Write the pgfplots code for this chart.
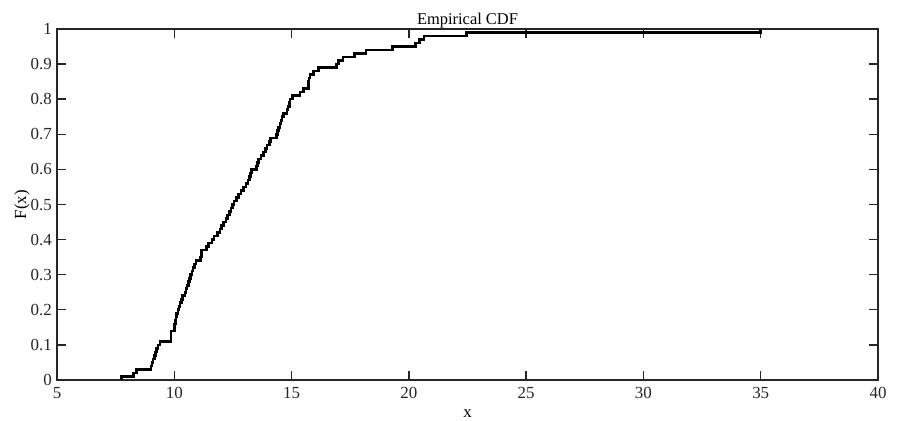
\documentclass[border=0pt]{standalone}
\usepackage{pgfplots}
\pgfplotsset{compat=1.18}
\usepackage{fontspec}
\setmainfont{Liberation Serif}
\definecolor{axgray}{HTML}{262626}
\pgfplotstableread{
x F
7.76 0.00
7.76 0.01
8.25 0.02
8.40 0.03
9.00 0.04
9.05 0.05
9.10 0.06
9.15 0.07
9.20 0.08
9.25 0.09
9.30 0.10
9.39 0.11
9.86 0.12
9.86 0.13
9.86 0.14
10.00 0.15
10.02 0.16
10.04 0.17
10.07 0.18
10.10 0.19
10.15 0.20
10.20 0.21
10.25 0.22
10.30 0.23
10.36 0.24
10.45 0.25
10.50 0.26
10.55 0.27
10.60 0.28
10.65 0.29
10.70 0.30
10.75 0.31
10.80 0.32
10.86 0.33
10.92 0.34
11.12 0.35
11.15 0.36
11.17 0.37
11.38 0.38
11.45 0.39
11.60 0.40
11.70 0.41
11.85 0.42
11.95 0.43
12.00 0.44
12.10 0.45
12.20 0.46
12.28 0.47
12.35 0.48
12.42 0.49
12.48 0.50
12.55 0.51
12.64 0.52
12.75 0.53
12.85 0.54
12.95 0.55
13.05 0.56
13.15 0.57
13.20 0.58
13.25 0.59
13.30 0.60
13.50 0.61
13.55 0.62
13.60 0.63
13.70 0.64
13.80 0.65
13.88 0.66
13.95 0.67
14.05 0.68
14.10 0.69
14.37 0.70
14.40 0.71
14.45 0.72
14.50 0.73
14.55 0.74
14.60 0.75
14.65 0.76
14.80 0.77
14.85 0.78
14.90 0.79
14.93 0.80
15.05 0.81
15.36 0.82
15.50 0.83
15.71 0.84
15.73 0.85
15.75 0.86
15.78 0.87
15.93 0.88
16.14 0.89
16.92 0.90
17.00 0.91
17.20 0.92
17.67 0.93
18.17 0.94
19.30 0.95
20.29 0.96
20.45 0.97
20.64 0.98
22.46 0.99
35.00 1.00
}\cdf
\begin{document}
\fontsize{17}{20}\selectfont
\begin{tikzpicture}
\path[use as bounding box] (-57bp,-41bp) rectangle (840bp,380bp);
\begin{axis}[
  at={(0,0)}, anchor=south west,
  scale only axis, width=821bp, height=351bp,
  xmin=5, xmax=40, ymin=0, ymax=1,
  xtick={5,10,15,20,25,30,35,40},
  xticklabels={5,10,15,20,25,30,35,40},
  ytick={0,0.1,0.2,0.3,0.4,0.5,0.6,0.7,0.8,0.9,1},
  yticklabels={0,0.1,0.2,0.3,0.4,0.5,0.6,0.7,0.8,0.9,1},
  tick align=inside,
  major tick length=9bp,
  axis line style={color=axgray, line width=1.5bp},
  every tick/.style={color=axgray, line width=1.4bp},
  tick label style={inner sep=0pt, text=axgray, font=\fontsize{17}{20}\selectfont},
  xticklabel shift=7bp,
  yticklabel shift=5bp,
  title={Empirical CDF},
  every axis title/.style={at={(axis description cs:0.5,1.0114)}, anchor=base, inner sep=0pt, font=\fontsize{16.5}{20}\selectfont},
  xlabel={x},
  every axis x label/.style={at={(axis description cs:0.5,-0.108)}, anchor=base, inner sep=0pt, font=\fontsize{17}{20}\selectfont},
  ylabel={F(x)},
  every axis y label/.style={at={(axis description cs:-0.0426,0.5)}, rotate=90, anchor=center, inner sep=0pt, font=\fontsize{17}{20}\selectfont},
]
\addplot[const plot, black, line width=2.6bp, mark=none] table[x=x, y=F] {\cdf};
\end{axis}
\end{tikzpicture}
\end{document}
